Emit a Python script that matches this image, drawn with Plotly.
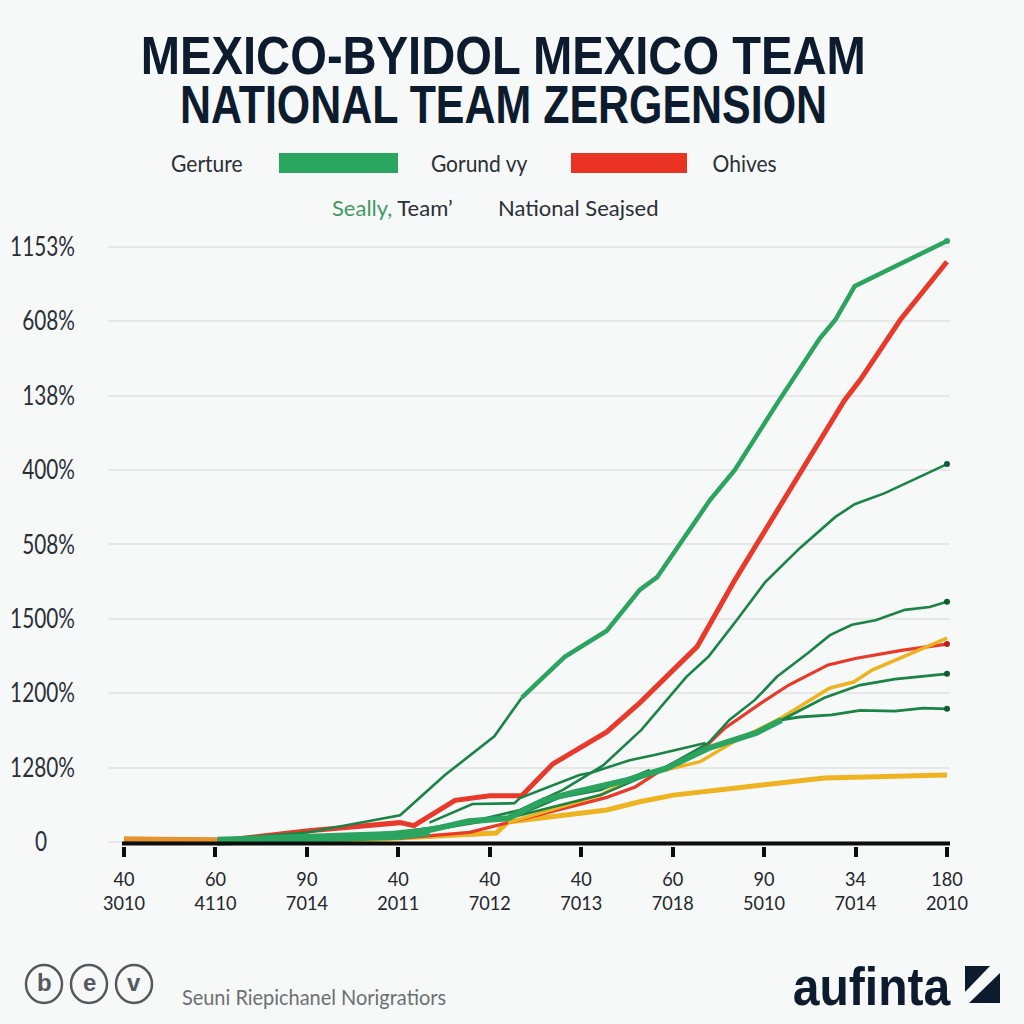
import plotly.graph_objects as go

# ---- data (x in tick steps, y in gridline steps) ----
x_top = ["40","60","90","40","40","40","60","90","34","180"]
x_bot = ["3010","4110","7014","2011","7012","7013","7018","5010","7014","2010"]
y_labels = ["0","1280%","1200%","1500%","508%","400%","138%","608%","1153%"]

a1_x = [0,1.02,2.02,3.02,3.51,4.05,4.35]
a1_y = [0,.03,.13,.36,.90,1.42,1.94]
a2_x = [4.35,4.82,5.28,5.64,5.83,6.41,6.68,7.15,7.61,7.78,7.99,9.0]
a2_y = [1.94,2.49,2.84,3.39,3.56,4.60,5.00,5.91,6.77,7.02,7.47,8.08]
b_x = [0,1.02,2.02,3.02,3.17,3.62,4.0,4.35,4.69,5.28,5.64,6.27,6.68,7.28,7.88,8.05,8.49,9.0]
b_y = [.03,.01,.15,.26,.22,.56,.62,.62,1.05,1.48,1.87,2.63,3.52,4.73,5.94,6.21,7.02,7.80]
c_x = [1.02,2.02,3.02,3.78,4.33,4.8,5.24,5.66,6.15,6.39,6.70,7.01,7.39,7.78,7.99,8.32,9.0]
c_y = [0,.03,.13,.27,.43,.70,1.03,1.51,2.22,2.49,2.98,3.49,3.95,4.37,4.54,4.69,5.08]
d_x = [3.02,4.33,5.21,5.93,6.39,6.62,6.90,7.14,7.48,7.72,7.96,8.22,8.54,8.81,9.0]
d_y = [.09,.36,.63,1.01,1.33,1.64,1.91,2.22,2.54,2.78,2.92,2.98,3.12,3.16,3.23]
e_x = [3.02,3.78,4.33,4.64,5.28,5.59,5.93,6.36,6.57,6.97,7.27,7.70,8.01,8.52,9.0]
e_y = [.05,.13,.30,.40,.60,.74,1.01,1.28,1.53,1.87,2.11,2.38,2.47,2.58,2.66]
f_x = [4.2,5.21,5.64,5.93,6.30,6.66,7.19,7.72,7.98,8.18,9.0]
f_y = [.26,.63,.90,.97,1.08,1.34,1.67,2.07,2.15,2.31,2.74]
g_x = [0,1.02,2.47,3.02,3.46,4.07,4.2,4.77,5.28,5.64,6.01,6.79,7.66,9.0]
g_y = [.04,.02,.02,.05,.09,.12,.27,.35,.43,.54,.63,.74,.86,.90]
start_x = [0,1.02]
start_y = [.04,.03]
base_x = [1.02,2.02,3.02,3.34]
base_y = [.01,.04,.09,.14]
bundle_x = [1.02,2.47,3.34,3.77,4.2,4.59,4.93,5.5,5.93,6.39,6.92,7.19]
bundle_y = [0,.05,.16,.28,.32,.56,.67,.83,.99,1.26,1.47,1.64]
h_x = [7.19,7.66,8.05,8.43,9.0]
h_y = [1.64,1.94,2.11,2.19,2.26]
i_x = [7.19,7.39,7.74,8.05,8.43,8.74,9.0]
i_y = [1.64,1.68,1.71,1.77,1.76,1.80,1.79]
j_x = [3.34,3.81,4.27,4.33,4.98,5.11,5.53,5.80,6.36]
j_y = [.26,.51,.52,.59,.90,.93,1.10,1.17,1.33]
k_x = [4.2,4.77,5.21,5.75]
k_y = [.30,.60,.70,.97]

GREEN = "#2aa45f"; DARK = "#1a8446"; RED = "#e8392a"; YEL = "#efb321"; NAVY = "#0c1c2e"
BG = "#f7f8f8"
BODY = "Lato, Liberation Sans, sans-serif"
HEAD = "Liberation Sans, sans-serif"

L, R, T, B = 108, 950, 232, 846
fx = lambda p: (p - L) / (R - L)
fy = lambda p: (B - p) / (B - T)

fig = go.Figure()

def line(x, y, color, width, dot=None):
    fig.add_trace(go.Scatter(x=x, y=y, mode="lines", line=dict(color=color, width=width),
                             showlegend=False, hoverinfo="skip"))
    if dot:
        fig.add_trace(go.Scatter(x=x[-1:], y=y[-1:], mode="markers",
                                 marker=dict(color=dot, size=6), showlegend=False, hoverinfo="skip"))

line(g_x, g_y, YEL, 5)
line(e_x, e_y, RED, 3.2, "#b5201a")
line(f_x, f_y, YEL, 3.5)
line(b_x, b_y, RED, 5)
line(a1_x, a1_y, DARK, 2.6)
line(a2_x, a2_y, GREEN, 4.5, GREEN)
line(c_x, c_y, DARK, 2.6, "#0e5c32")
line(d_x, d_y, DARK, 2.6, "#0e5c32")
line(j_x, j_y, DARK, 2.6)
line(k_x, k_y, DARK, 2.6)
line(base_x, base_y, GREEN, 9)
line(bundle_x, bundle_y, GREEN, 6)
line(h_x, h_y, DARK, 2.8, "#0e5c32")
line(i_x, i_y, DARK, 2.8, "#0e5c32")
line(start_x, start_y, "#e8922e", 5)

anns = []
def text(t, px, py, size, color="#2a2f36", font=BODY, anchor="center", **kw):
    anns.append(dict(text=t, x=fx(px), y=fy(py), xref="paper", yref="paper", showarrow=False,
                     xanchor=anchor, yanchor="middle", font=dict(size=size, color=color, family=font), **kw))

text("<b>MEXICO-BYIDOL MEXICO TEAM</b>", 503, 55, 53, NAVY, HEAD)
text("<b>NATIONAL TEAM ZERGENSION</b>", 503, 105, 53, NAVY, HEAD)

text("Gerture", 206.5, 163, 24)
text("Gorund vy", 479.5, 163, 24)
text("Ohives", 744, 163, 24)
text('<span style="color:#3f9a63">Seally,</span> Team’', 392, 207, 22)
text("National Seajsed", 577.5, 207, 22)
text("Seuni Riepichanel Norigratiors", 313.5, 996, 21, "#6b7074")
text("<b>aufinta</b>", 871.5, 986, 54, NAVY, HEAD)

shapes = []
def rect(x0, y0, x1, y1, color):
    shapes.append(dict(type="rect", xref="paper", yref="paper", x0=fx(x0), x1=fx(x1), y0=fy(y0), y1=fy(y1),
                       fillcolor=color, line=dict(width=0), layer="above"))
rect(279, 153, 398, 173, "#2ba660")
rect(571, 153, 687, 173, "#ea3323")
rect(122, 841.5, 950, 845.5, "#0d0d0d")
rect(965, 966, 1000, 1003, NAVY)
shapes.append(dict(type="path", xref="paper", yref="paper", layer="above", line=dict(width=0), fillcolor=BG,
    path=f"M {fx(969)} {fy(1003)} L {fx(1000)} {fy(973)} L {fx(1000)} {fy(966)} L {fx(990)} {fy(966)} L {fx(965)} {fy(992)} L {fx(965)} {fy(1003)} Z"))
for cx, glyph in zip([44, 89, 134], ["b", "e", "v"]):
    shapes.append(dict(type="circle", xref="paper", yref="paper", x0=fx(cx-18), x1=fx(cx+18), y0=fy(984+19), y1=fy(984-19),
                       line=dict(color="#55595e", width=2.5), fillcolor="rgba(0,0,0,0)", layer="above"))
    text(f"<b>{glyph}</b>", cx, 983, 24, "#55595e", "Liberation Sans")

fig.update_layout(
    width=1024, height=1024, autosize=False,
    paper_bgcolor=BG, plot_bgcolor=BG,
    margin=dict(l=L, r=1024-R, t=T, b=1024-B, pad=0),
    annotations=anns, shapes=shapes,
    font=dict(family=BODY, color="#2a2f36"),
    xaxis=dict(range=[-0.175, 9.033], tickmode="array", tickvals=list(range(10)), automargin=False,
               ticktext=[f"{a}<br>{b}" for a, b in zip(x_top, x_bot)],
               ticks="outside", ticklen=10, tickwidth=3.5, tickcolor="#0d0d0d",
               showline=False, showgrid=False, zeroline=False,
               ticklabelstandoff=6,
               tickfont=dict(size=19.5, family=BODY, color="#23262b"), tickangle=0),
    yaxis=dict(range=[-0.054, 8.2], tickmode="array", tickvals=list(range(9)), ticktext=y_labels, automargin=False,
               ticks="", showline=False, showgrid=True, gridcolor="#e6e8e8", gridwidth=1.5, zeroline=False,
               ticklabelstandoff=32, tickfont=dict(size=26, family=BODY, color="#2a2f36")),
)

# The reference lettering is condensed and no condensed face is installed, so squeeze the real text.
POST = """
document.body.style.margin='0';document.body.style.background='%s';
(function(){
  var S={'MEXICO-BYIDOL MEXICO TEAM':0.89,'NATIONAL TEAM ZERGENSION':0.81,'Gerture':0.875,'Gorund vy':0.875,
         'Ohives':0.875,'Seuni Riepichanel Norigratiors':0.95,'aufinta':0.89};
  function squeeze(el,k){el.setAttribute('textLength',el.getComputedTextLength()*k);el.setAttribute('lengthAdjust','spacingAndGlyphs');}
  document.querySelectorAll('.annotation-text').forEach(function(el){var k=S[el.textContent];if(k)squeeze(el,k);});
  document.querySelectorAll('.ytick text').forEach(function(el){
    squeeze(el,0.8);
    if(el.textContent==='0'){el.setAttribute('x',parseFloat(el.getAttribute('x'))-28);}
  });
  document.querySelectorAll('.xtick text').forEach(function(el){
    var ls=el.querySelectorAll('tspan.line');
    ls.forEach(function(t){squeeze(t,0.93);});
    if(ls[1]){ls[1].setAttribute('dy','24px');}
  });
})();
""" % BG
fig.write_html("out.html", config=dict(displayModeBar=False), post_script=POST)
